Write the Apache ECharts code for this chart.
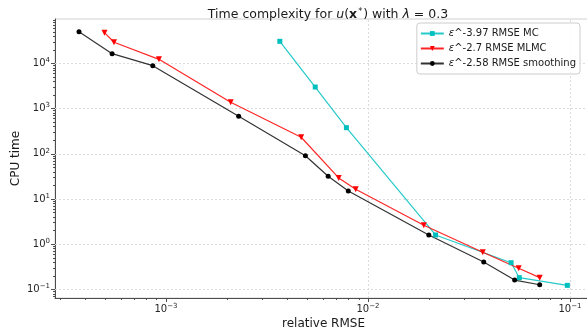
<!DOCTYPE html>
<html>
<head>
<meta charset="utf-8">
<script src="https://cdn.jsdelivr.net/npm/echarts@6/dist/echarts.min.js"></script>
<style>
  html, body { margin: 0; padding: 0; background: #fff; }
  #chart { width: 587px; height: 332px; }
</style>
</head>
<body>
<div id="chart"></div>
<script>
// Relative RMSE vs CPU time for the three estimators
const mcRmse = [3.66e-3, 5.48e-3, 7.82e-3, 0.0216, 0.0511, 0.0561, 0.0970];
const mcTime = [3.08e4, 3.0e3, 378, 1.60, 0.39, 0.182, 0.123];

const mlmcRmse = [4.96e-4, 5.53e-4, 9.23e-4, 2.09e-3, 4.67e-3, 7.16e-3, 8.69e-3, 0.0189, 0.0370, 0.0557, 0.0708];
const mlmcTime = [4.78e4, 2.93e4, 1.23e4, 1377, 232, 29.2, 16.4, 2.62, 0.662, 0.293, 0.182];

const smRmse = [3.71e-4, 5.41e-4, 8.60e-4, 2.29e-3, 4.90e-3, 6.35e-3, 7.99e-3, 0.0200, 0.0374, 0.0532, 0.0708];
const smTime = [5.02e4, 1.64e4, 8.9e3, 676, 90.8, 31.8, 15.0, 1.60, 0.403, 0.161, 0.127];

const seriesNames = ['ε^-3.97 RMSE MC', 'ε^-2.7 RMSE MLMC', 'ε^-2.58 RMSE smoothing'];

// Major tick values (powers of ten)
const xMajor = [1e-3, 1e-2, 1e-1];
const yMajor = [1e-1, 1e0, 1e1, 1e2, 1e3, 1e4];

// Axis ranges (log axes)
const xMin = 2.822e-4, xMax = 0.1285;
const yMin = 0.0646, yMax = 9.59e4;

// Minor tick positions: 2..9 times each power of ten
function minorTicks(lo, hi) {
  const out = [];
  for (let p = Math.floor(Math.log10(lo)); p <= Math.ceil(Math.log10(hi)); p++) {
    for (let m = 2; m <= 9; m++) {
      const v = m * Math.pow(10, p);
      if (v >= lo && v <= hi) out.push(v);
    }
  }
  return out;
}

const FONT = 'DejaVu Sans';

function powLabel(value) {
  const e = Math.log10(value);
  const r = Math.round(e);
  if (Math.abs(e - r) > 1e-6) return '';
  const exp = r < 0 ? '\u2212' + (-r) : String(r);
  return '{b|10}{e|' + exp + '}';
}

const tickRich = {
  b: { fontSize: 10, fontFamily: FONT, color: '#262626', lineHeight: 14 },
  e: { fontSize: 7, fontFamily: FONT, color: '#262626', lineHeight: 14, padding: [0, 0, 6, 0] }
};

function pts(xs, ys) { return xs.map((x, i) => [x, ys[i]]); }

// Dotted grid lines at the powers of ten
const gridMarks = xMajor.map(v => ({ xAxis: v })).concat(yMajor.map(v => ({ yAxis: v })));

const chart = echarts.init(document.getElementById('chart'), null, { renderer: 'canvas' });

chart.setOption({
  animation: false,
  backgroundColor: '#fff',
  title: {
    text: 'Time complexity for {i|u}({bf|x}{sup|*}) with {i|λ} = 0.3',
    left: 323,
    textAlign: 'center',
    top: 3,
    textStyle: {
      fontFamily: FONT, fontSize: 12.5, fontWeight: 'normal', color: '#1a1a1a',
      rich: {
        i: { fontFamily: FONT, fontSize: 12.5, fontStyle: 'italic', color: '#1a1a1a' },
        bf: { fontFamily: FONT, fontSize: 12.5, fontWeight: 'bold', color: '#1a1a1a' },
        sup: { fontFamily: FONT, fontSize: 8, color: '#1a1a1a', padding: [0, 1, 6, 1] }
      }
    }
  },
  legend: {
    orient: 'vertical',
    right: 7,
    top: 23,
    itemWidth: 23,
    itemHeight: 6,
    itemGap: 2,
    padding: [4, 4, 4, 3],
    borderColor: '#cccccc',
    borderWidth: 1,
    borderRadius: 3,
    backgroundColor: 'rgba(255,255,255,0.85)',
    data: seriesNames,
    formatter: name => name.replace('ε', '{i|ε}'),
    textStyle: {
      fontFamily: FONT, fontSize: 10, color: '#1a1a1a', lineHeight: 13,
      rich: { i: { fontFamily: FONT, fontSize: 10, fontStyle: 'italic', color: '#1a1a1a' } }
    }
  },
  grid: {
    left: 55, top: 19, width: 537, height: 279,
    show: true, borderColor: '#d0d0d0', borderWidth: 1,
    backgroundColor: 'transparent',
    containLabel: false,
    outerBoundsMode: 'none'
  },
  xAxis: [
    {
      type: 'log', logBase: 10, min: xMin, max: xMax, position: 'bottom',
      name: 'relative RMSE', nameLocation: 'middle', nameGap: 20, nameMoveOverlap: false,
      nameTextStyle: { fontFamily: FONT, fontSize: 12, color: '#1a1a1a' },
      axisLine: { lineStyle: { color: '#4d4d4d', width: 1 } },
      axisTick: { length: 4, customValues: xMajor, lineStyle: { color: '#4d4d4d' } },
      axisLabel: { formatter: powLabel, rich: tickRich, margin: 4, customValues: xMajor },
      splitLine: { show: false },
      minorTick: { show: false }
    },
    {
      type: 'log', logBase: 10, min: xMin, max: xMax, position: 'bottom',
      axisLine: { show: false },
      axisLabel: { show: false },
      splitLine: { show: false },
      axisTick: { show: true, length: 2, customValues: minorTicks(xMin, xMax), lineStyle: { color: '#4d4d4d' } }
    }
  ],
  yAxis: [
    {
      type: 'log', logBase: 10, min: yMin, max: yMax, position: 'left',
      name: 'CPU time', nameLocation: 'middle', nameGap: 33, nameMoveOverlap: false,
      nameTextStyle: { fontFamily: FONT, fontSize: 12, color: '#1a1a1a' },
      axisLine: { show: true, lineStyle: { color: '#4d4d4d', width: 1 } },
      axisTick: { show: true, length: 4, customValues: yMajor, lineStyle: { color: '#4d4d4d' } },
      axisLabel: { formatter: powLabel, rich: tickRich, margin: 5, customValues: yMajor },
      splitLine: { show: false }
    },
    {
      type: 'log', logBase: 10, min: yMin, max: yMax, position: 'left',
      axisLine: { show: false },
      axisLabel: { show: false },
      splitLine: { show: false },
      axisTick: { show: true, length: 2, customValues: minorTicks(yMin, yMax), lineStyle: { color: '#4d4d4d' } }
    }
  ],
  series: [
    {
      type: 'line', data: [], z: 1, silent: true,
      xAxisIndex: 0, yAxisIndex: 0,
      markLine: {
        silent: true, z: 1, symbol: 'none', animation: false,
        label: { show: false },
        emphasis: { disabled: true },
        lineStyle: { color: '#dcdcdc', width: 1, type: [2, 2] },
        data: gridMarks
      }
    },
    {
      name: seriesNames[0], type: 'line', data: pts(mcRmse, mcTime),
      xAxisIndex: 0, yAxisIndex: 0,
      symbol: 'rect', symbolSize: 5,
      lineStyle: { color: '#00bfbf', width: 1.2, opacity: 0.85 },
      itemStyle: { color: '#00bfbf' },
      emphasis: { disabled: true }
    },
    {
      name: seriesNames[1], type: 'line', data: pts(mlmcRmse, mlmcTime),
      xAxisIndex: 0, yAxisIndex: 0,
      symbol: 'triangle', symbolRotate: 180, symbolSize: 6,
      lineStyle: { color: '#ff0000', width: 1.2, opacity: 0.85 },
      itemStyle: { color: '#ff0000' },
      emphasis: { disabled: true }
    },
    {
      name: seriesNames[2], type: 'line', data: pts(smRmse, smTime),
      xAxisIndex: 0, yAxisIndex: 0,
      symbol: 'circle', symbolSize: 5,
      lineStyle: { color: '#000000', width: 1.2, opacity: 0.8 },
      itemStyle: { color: '#000000' },
      emphasis: { disabled: true }
    }
  ]
});
</script>
</body>
</html>
